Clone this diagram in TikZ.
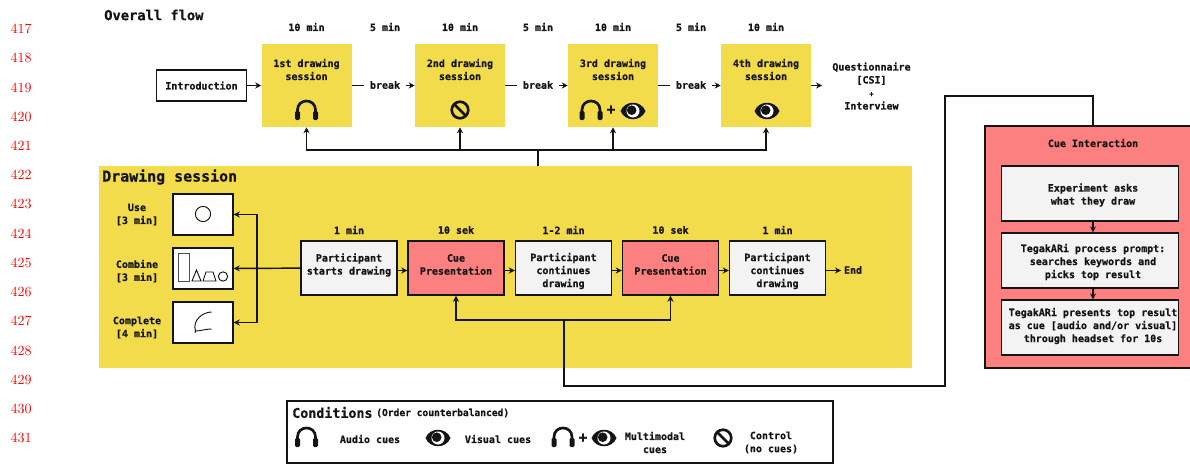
\documentclass[tikz,border=0pt]{standalone}
\usepackage{fontspec}
\newfontfamily\cuefont{DejaVu Sans Mono}[BoldFeatures={FakeBold=0.6}]
\usetikzlibrary{calc,arrows.meta}
\definecolor{sessionyellow}{HTML}{F3DC4B}
\definecolor{cuered}{HTML}{FC8080}
\definecolor{boxgray}{HTML}{F3F3F3}
\definecolor{inkblack}{HTML}{141414}
\begin{document}
\begin{tikzpicture}[x=0.75pt,y=-0.75pt]
       \tikzstyle{every node}=[font=\cuefont\bfseries\fontsize{7.5}{9.75}\selectfont, text=inkblack, inner sep=0pt, align=center]
       \tikzstyle{linenode}=[font=\rmfamily\fontsize{10.5}{12}\selectfont, text=red]
       \tikzstyle{headnode}=[font=\cuefont\bfseries\fontsize{10.3}{12}\selectfont]
       \tikzstyle{sessionnode}=[fill=sessionyellow, minimum width=67.5pt, minimum height=62.25pt]
       \tikzstyle{stepnode}=[draw=inkblack, line width=1.1pt, fill=boxgray, minimum width=72pt, minimum height=40.5pt]
       \tikzstyle{cuenode}=[stepnode, fill=cuered]
       \tikzstyle{tasknode}=[draw=inkblack, line width=1.1pt, fill=white, minimum width=45pt, minimum height=30.5pt]
       \tikzstyle{infonode}=[stepnode, minimum width=132.5pt, minimum height=41pt]
       \tikzstyle{flowline}=[draw=inkblack, line width=1.1pt, -{Stealth[length=4.5pt,width=4.5pt]}]
       \tikzstyle{plainline}=[draw=inkblack, line width=1.1pt]
       \tikzstyle{sketchline}=[draw=inkblack, line width=0.7pt]
       \tikzset{
        headset/.pic={
         \draw[inkblack, line width=2pt] (-9,4) -- (-9,-1) .. controls (-9,-13) and (9,-13) .. (9,-1) -- (9,4);
         \fill[inkblack, rounded corners=1pt] (-11.5,0) rectangle (-6.5,9);
         \fill[inkblack, rounded corners=1pt] (6.5,0) rectangle (11.5,9);
        },
        eyeball/.pic={
         \fill[inkblack] (-12.5,0) .. controls (-8,-11) and (8,-11) .. (12.5,0) .. controls (8,11) and (-8,11) .. (-12.5,0) -- cycle;
         \fill[white] (0,0) circle (4.9pt);
         \fill[inkblack] (-1.3,-0.8) circle (3.6pt);
        },
        noway/.pic={
         \draw[inkblack, line width=2pt] (0,0) circle (6.2pt);
         \draw[inkblack, line width=2pt] (-6,-6) -- (6,6);
        }
       }
       \useasboundingbox (0,0) rectangle (1190,464);
       \node[linenode] (l417) at (21,29) {417};
       \node[linenode] (l418) at (21,58) {418};
       \node[linenode] (l419) at (21,88) {419};
       \node[linenode] (l420) at (21,117) {420};
       \node[linenode] (l421) at (21,146) {421};
       \node[linenode] (l422) at (21,175) {422};
       \node[linenode] (l423) at (21,204) {423};
       \node[linenode] (l424) at (21,234) {424};
       \node[linenode] (l425) at (21,263) {425};
       \node[linenode] (l426) at (21,292) {426};
       \node[linenode] (l427) at (21,321) {427};
       \node[linenode] (l428) at (21,351) {428};
       \node[linenode] (l429) at (21,380) {429};
       \node[linenode] (l430) at (21,409) {430};
       \node[linenode] (l431) at (21,438) {431};
       % overall flow
       \node[headnode, anchor=west] (overall) at (104,15) {Overall flow};
       \node (t1) at (306.5,27) {10 min};
       \node (t2) at (385,27) {5 min};
       \node (t3) at (460,27) {10 min};
       \node (t4) at (538,27) {5 min};
       \node (t5) at (613,27) {10 min};
       \node (t6) at (691,27) {5 min};
       \node (t7) at (766,27) {10 min};
       \node[draw=inkblack, line width=1.1pt, fill=white, minimum width=67.5pt, minimum height=23pt] (intro) at (201.5,85.5) {Introduction};
       \node[sessionnode] (s1) at (306.5,85.5) {};
       \node[sessionnode] (s2) at (460,85.5) {};
       \node[sessionnode] (s3) at (613,85.5) {};
       \node[sessionnode] (s4) at (766,85.5) {};
       \node (s1text) at (306.5,69.5) {1st drawing\\session};
       \node (s2text) at (460,69.5) {2nd drawing\\session};
       \node (s3text) at (613,69.5) {3rd drawing\\session};
       \node (s4text) at (766,69.5) {4th drawing\\session};
       \pic at (306.5,111) {headset};
       \pic at (460,110) {noway};
       \pic at (591,111) {headset};
       \node[font=\cuefont\bfseries\fontsize{11}{12}\selectfont] (s3plus) at (611,110) {+};
       \pic at (633,111) {eyeball};
       \pic at (767,111) {eyeball};
       \node[inner sep=4.5pt] (b1) at (385,85) {break};
       \node[inner sep=4.5pt] (b2) at (538,85) {break};
       \node[inner sep=4.5pt] (b3) at (691,85) {break};
       \node[inner sep=7.5pt] (quest) at (871.5,86) {Questionnaire\\{}[CSI]\\{\fontsize{5.5}{9.75}\selectfont +}\\Interview};
       \draw[flowline] (intro) -- (s1);
       \draw[plainline] (s1.east) -- (s1.east -| b1.west);
       \draw[flowline] (b1.east |- s2.west) -- (s2.west);
       \draw[plainline] (s2.east) -- (s2.east -| b2.west);
       \draw[flowline] (b2.east |- s3.west) -- (s3.west);
       \draw[plainline] (s3.east) -- (s3.east -| b3.west);
       \draw[flowline] (b3.east |- s4.west) -- (s4.west);
       \draw[flowline] (s4.east) -- (s4.east -| quest.west);
       % drawing session
       \node[fill=sessionyellow, minimum width=610pt, minimum height=151.5pt] (dsbg) at (505.5,267) {};
       \coordinate (busmid) at (538,150);
       \draw[plainline] (dsbg.north -| busmid) -- (busmid);
       \draw[flowline] (busmid) -| (s1);
       \draw[flowline] (busmid) -| (s2);
       \draw[flowline] (busmid) -| (s3);
       \draw[flowline] (busmid) -| (s4);
       \node[headnode, font=\cuefont\bfseries\fontsize{11.2}{12}\selectfont, anchor=west] (dshead) at (102,177) {Drawing session};
       \node (uselabel) at (137,214.5) {Use\\{}[3 min]};
       \node (comblabel) at (137,271) {Combine\\{}[3 min]};
       \node (complabel) at (137,327.5) {Complete\\{}[4 min]};
       \node[tasknode] (use) at (203,214.5) {};
       \node[tasknode] (combine) at (203,268.5) {};
       \node[tasknode] (complete) at (203,322.5) {};
       \draw[sketchline] (203,214) circle (5.7pt);
       \draw[sketchline, draw=inkblack!75] (178.5,253.5) rectangle (189.5,281);
       \draw[sketchline] (192,281) -- (201,281) -- (196.5,270) -- cycle;
       \draw[sketchline] (203,281) -- (216,281) -- (213,272) -- (206,272) -- cycle;
       \draw[sketchline] (223,276.5) circle (3.5pt);
       \draw[sketchline] (211.5,312) .. controls (203,312) and (192,320) .. (195.5,331) .. controls (200,331) and (206,329) .. (211.5,329);
       \draw[sketchline] (195.5,331) -- (195,333);
       \node[stepnode] (p1) at (349,268) {};
       \node[cuenode] (c1) at (456,268) {};
       \node[stepnode] (p2) at (563.5,268) {};
       \node[cuenode] (c2) at (670.5,268) {};
       \node[stepnode] (p3) at (777.5,268) {};
       \node (p1text) at (349,265) {Participant\\starts drawing};
       \node (c1text) at (456,264.5) {Cue\\Presentation};
       \node (p2text) at (563.5,271) {Participant\\continues\\drawing};
       \node (c2text) at (670.5,264.5) {Cue\\Presentation};
       \node (p3text) at (777.5,271) {Participant\\continues\\drawing};
       \node (d1) at (349,230) {1 min};
       \node (d2) at (456,230) {10 sek};
       \node (d3) at (563.5,230) {1-2 min};
       \node (d4) at (670.5,230) {10 sek};
       \node (d5) at (777.5,230) {1 min};
       \node[inner sep=2pt] (endnode) at (853,270) {End};
       \coordinate (rowline) at (0,270.5);
       \coordinate (fork) at (257,268);
       \draw[flowline] (p1) -- (combine);
       \draw[flowline] (fork) |- (use);
       \draw[flowline] (fork) |- (complete);
       \draw[flowline] (p1.east |- rowline) -- (c1.west |- rowline);
       \draw[flowline] (c1.east |- rowline) -- (p2.west |- rowline);
       \draw[flowline] (p2.east |- rowline) -- (c2.west |- rowline);
       \draw[flowline] (c2.east |- rowline) -- (p3.west |- rowline);
       \draw[flowline] (p3.east |- rowline) -- (endnode.west |- rowline);
       \coordinate (cuebus) at (564,320);
       \draw[flowline] (cuebus) -| (c1);
       \draw[flowline] (cuebus) -| (c2);
       % cue interaction
       \node[draw=inkblack, line width=1.1pt, fill=cuered, minimum width=165pt, minimum height=181.5pt] (cuebox) at (1095,247) {};
       \coordinate (bendA) at (945,386);
       \coordinate (bendB) at (945,96);
       \coordinate (bendC) at (1093,96);
       \draw[plainline] (cuebus) |- (bendA) -- (bendB) -- (bendC) -- (bendC |- cuebox.north);
       \node (cuetitle) at (1093,143) {Cue Interaction};
       \node[infonode] (ask) at (1090,193.5) {};
       \node[infonode] (process) at (1090,260.5) {};
       \node[infonode] (present) at (1090,327.5) {};
       \node (asktext) at (1093,195) {Experiment asks\\what they draw};
       \node (processtext) at (1093,262) {TegakARi process prompt:\\searches keywords and\\picks top result};
       \node (presenttext) at (1093,326) {TegakARi presents top result\\as cue [audio and/or visual]\\through headset for 10s};
       \draw[flowline] (ask.south -| cuetitle) -- (process.north -| cuetitle);
       \draw[flowline] (process.south -| cuetitle) -- (present.north -| cuetitle);
       % conditions
       \node[draw=inkblack, line width=1.1pt, fill=white, minimum width=409.5pt, minimum height=46.5pt] (condbox) at (560,432) {};
       \node[headnode, font=\cuefont\bfseries\fontsize{10}{12}\selectfont, anchor=west] (condhead) at (292,412.5) {Conditions};
       \node[font=\cuefont\bfseries\fontsize{7.2}{9}\selectfont, anchor=west] (condnote) at (376,413) {(Order counterbalanced)};
       \pic at (306.5,438) {headset};
       \node (audio) at (370,439) {Audio cues};
       \pic at (438,438) {eyeball};
       \node (visual) at (498,439) {Visual cues};
       \pic at (563,438) {headset};
       \node[font=\cuefont\bfseries\fontsize{11}{12}\selectfont] (condplus) at (583,438) {+};
       \pic at (604,438) {eyeball};
       \node (multi) at (655,442.5) {Multimodal\\cues};
       \pic at (723,438) {noway};
       \node (control) at (771,442.5) {Control\\(no cues)};
\end{tikzpicture}
\end{document}
